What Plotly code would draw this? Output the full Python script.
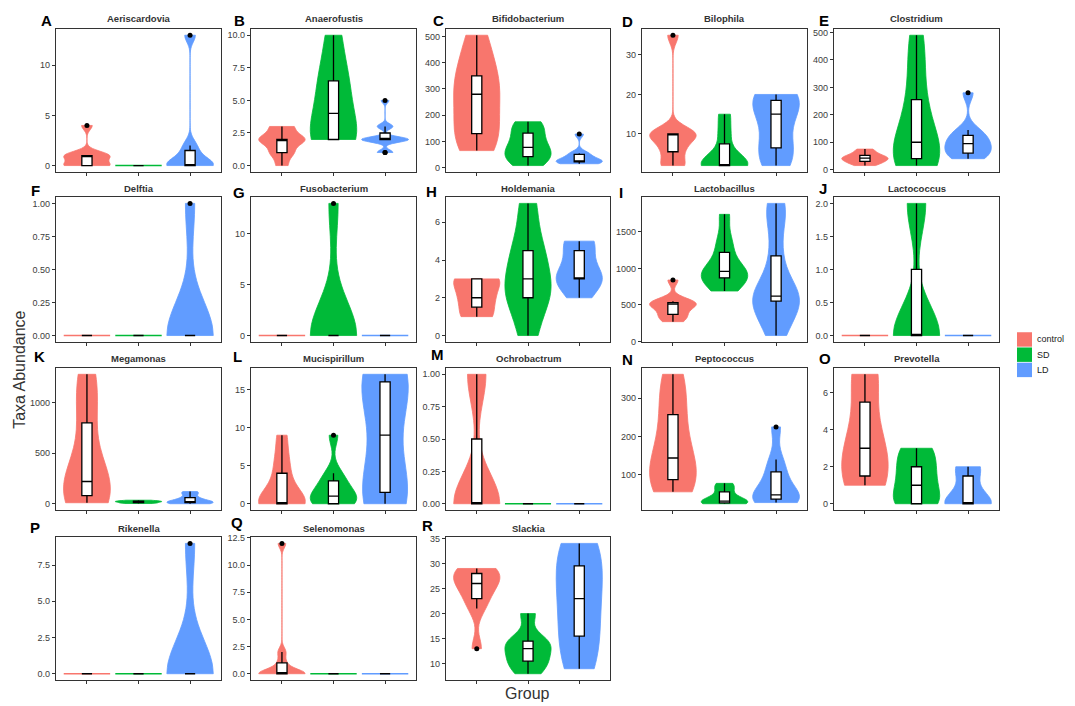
import numpy as np
import plotly.graph_objects as go

GROUPS = ["control", "SD", "LD"]
COLORS = {"control": "#F8766D", "SD": "#00BA38", "LD": "#619CFF"}

# Taxa abundance per group (counts per sample)
aeriscardovia = dict(control=[0, 0, 0, 0, 1, 1, 1, 1, 4],
                     SD=[0, 0, 0, 0, 0, 0, 0, 0, 0],
                     LD=[0, 0, 0, 0, 1, 2, 13])
anaerofustis = dict(control=[0, 1, 1, 2, 2, 2, 2, 3, 3],
                    SD=[2, 2, 2, 4, 6, 7, 10],
                    LD=[1, 1, 2, 2, 2, 2, 2, 2, 3, 3, 5])
bifidobacterium = dict(control=[65, 110, 130, 200, 280, 300, 350, 420, 505],
                       SD=[8, 30, 42, 60, 77, 100, 132, 160, 175],
                       LD=[15, 20, 22, 24, 26, 35, 51, 55, 128])
bilophila = dict(control=[2, 2, 5.5, 7, 10, 10, 10, 10, 35],
                 SD=[2, 2, 2, 2, 5, 10, 15],
                 LD=[2, 5, 8, 15, 17, 20, 20])
clostridium = dict(control=[15, 25, 30, 38, 42, 45, 52, 62, 75],
                   SD=[15, 25, 40, 70, 100, 180, 255, 380, 490],
                   LD=[40, 55, 60, 80, 95, 110, 125, 145, 280])
delftia = dict(control=[0, 0, 0, 0, 0, 0, 0],
               SD=[0, 0, 0, 0, 0, 0, 0],
               LD=[0, 0, 0, 0, 0, 1])
fusobacterium = dict(control=[0, 0, 0, 0, 0, 0, 0],
                     SD=[0, 0, 0, 0, 0, 13],
                     LD=[0, 0, 0, 0, 0, 0, 0])
holdemania = dict(control=[1, 1, 2, 2, 3, 3, 3],
                  SD=[0, 2, 2, 3, 4, 5, 7],
                  LD=[2, 3, 3, 3, 4, 5, 5])
lactobacillus = dict(control=[270, 330, 370, 450, 510, 520, 530, 550, 840],
                     SD=[690, 800, 870, 920, 960, 1000, 1220, 1400, 1740],
                     LD=[80, 350, 550, 580, 620, 700, 1170, 1700, 1890])
lactococcus = dict(control=[0, 0, 0, 0, 0, 0, 0],
                   SD=[0, 0, 0, 0, 0, 2, 2],
                   LD=[0, 0, 0, 0, 0, 0, 0])
megamonas = dict(control=[10, 40, 80, 150, 220, 400, 800, 1100, 1280],
                 SD=[2, 5, 10, 15, 20, 22, 25, 30, 35],
                 LD=[0, 5, 10, 15, 20, 40, 60, 100, 120])
mucispirillum = dict(control=[0, 0, 0, 0, 0, 2, 4, 6, 9],
                     SD=[0, 0, 0, 1, 1, 2, 3, 4, 9],
                     LD=[0, 1, 2, 9, 16, 16, 17])
ochrobactrum = dict(control=[0, 0, 0, 0, 0, 1, 1],
                    SD=[0, 0, 0, 0, 0, 0, 0],
                    LD=[0, 0, 0, 0, 0, 0, 0])
peptococcus = dict(control=[56, 70, 88, 120, 144, 200, 257, 320, 362],
                   SD=[25, 26, 27, 30, 32, 40, 56, 70, 78],
                   LD=[28, 33, 37, 42, 48, 80, 108, 140, 225])
prevotella = dict(control=[1, 1, 2, 3, 4, 7, 7],
                  SD=[0, 0, 0, 1, 1, 2, 2, 3, 3],
                  LD=[0, 0, 0, 0, 1, 2, 2])
rikenella = dict(control=[0, 0, 0, 0, 0, 0, 0],
                 SD=[0, 0, 0, 0, 0, 0, 0],
                 LD=[0, 0, 0, 0, 0, 9])
selenomonas = dict(control=[0, 0, 0, 0, 0, 0, 1, 2, 12],
                   SD=[0, 0, 0, 0, 0, 0, 0],
                   LD=[0, 0, 0, 0, 0, 0, 0])
slackia = dict(control=[13, 21, 23, 25, 26, 27, 28, 29, 29],
               SD=[8, 10, 11, 13, 14, 15, 20],
               LD=[9, 13, 18, 23, 27, 32, 34])

# y tick labels per panel
ticks_A = ["0", "5", "10"]
ticks_B = ["0.0", "2.5", "5.0", "7.5", "10.0"]
ticks_C = ["0", "100", "200", "300", "400", "500"]
ticks_D = ["10", "20", "30"]
ticks_E = ["0", "100", "200", "300", "400", "500"]
ticks_F = ["0.00", "0.25", "0.50", "0.75", "1.00"]
ticks_G = ["0", "5", "10"]
ticks_H = ["0", "2", "4", "6"]
ticks_I = ["0", "500", "1000", "1500"]
ticks_J = ["0.0", "0.5", "1.0", "1.5", "2.0"]
ticks_K = ["0", "500", "1000"]
ticks_L = ["0", "5", "10", "15"]
ticks_M = ["0.00", "0.25", "0.50", "0.75", "1.00"]
ticks_N = ["100", "200", "300"]
ticks_O = ["0", "2", "4", "6"]
ticks_P = ["0.0", "2.5", "5.0", "7.5"]
ticks_Q = ["0.0", "2.5", "5.0", "7.5", "10.0", "12.5"]
ticks_R = ["10", "15", "20", "25", "30", "35"]

panels = [
    ("A", "Aeriscardovia", aeriscardovia, ticks_A),
    ("B", "Anaerofustis", anaerofustis, ticks_B),
    ("C", "Bifidobacterium", bifidobacterium, ticks_C),
    ("D", "Bilophila", bilophila, ticks_D),
    ("E", "Clostridium", clostridium, ticks_E),
    ("F", "Delftia", delftia, ticks_F),
    ("G", "Fusobacterium", fusobacterium, ticks_G),
    ("H", "Holdemania", holdemania, ticks_H),
    ("I", "Lactobacillus", lactobacillus, ticks_I),
    ("J", "Lactococcus", lactococcus, ticks_J),
    ("K", "Megamonas", megamonas, ticks_K),
    ("L", "Mucispirillum", mucispirillum, ticks_L),
    ("M", "Ochrobactrum", ochrobactrum, ticks_M),
    ("N", "Peptococcus", peptococcus, ticks_N),
    ("O", "Prevotella", prevotella, ticks_O),
    ("P", "Rikenella", rikenella, ticks_P),
    ("Q", "Selenomonas", selenomonas, ticks_Q),
    ("R", "Slackia", slackia, ticks_R),
]

W, H = 1075, 706
COL_PX = [(56, 221), (251, 416), (446, 610), (642, 807), (834, 999)]
ROW_PX = [(25, 170), (195, 342), (368, 512), (539, 684)]
TITLE_Y = [15, 187, 359, 531]
LETTER_POS = {
    "A": (46, 17), "B": (239, 17), "C": (438, 17), "D": (627, 18), "E": (824, 17),
    "F": (35, 189), "G": (239, 191), "H": (431, 190), "I": (621, 191), "J": (823, 187),
    "K": (39, 357), "L": (237, 357), "M": (437, 355), "N": (627, 360), "O": (825, 359),
    "P": (35, 530), "Q": (237, 524), "R": (427, 527),
}
TEXT = "#333333"
FONT = "Liberation Sans, Arial, sans-serif"


def nrd0(values):
    """Silverman-style bandwidth as used by R's bw.nrd0."""
    v = np.asarray(values, float)
    hi = v.std(ddof=1)
    q75, q25 = np.percentile(v, [75, 25])
    lo = min(hi, (q75 - q25) / 1.34)
    if not lo:
        lo = hi or abs(v[0]) or 1.0
    return 0.9 * lo * len(v) ** -0.2


def px_x(p):
    return p / W


def px_y(p):
    return 1 - p / H


fig = go.Figure()
annotations = []
layout_axes = {}

for i, (letter, title, data, ticks) in enumerate(panels):
    r, c = divmod(i, 5)
    n = i + 1
    xs = "" if n == 1 else str(n)
    xa, ya = "x" + xs, "y" + xs

    allv = np.concatenate([np.asarray(data[g], float) for g in GROUPS])
    lo, hi = allv.min(), allv.max()
    pad = 0.05 * (hi - lo)

    for k, g in enumerate(GROUPS):
        vals = data[g]
        flat = min(vals) == max(vals)
        fig.add_trace(go.Violin(
            x0=k + 1, y=vals, xaxis=xa, yaxis=ya,
            name=f"{title} {g}", width=0.9, spanmode="hard",
            bandwidth=None if flat else nrd0(vals),
            quartilemethod="inclusive",
            fillcolor=COLORS[g], opacity=1,
            line=dict(color=COLORS[g], width=1.4 if flat else 0.8),
            points="outliers", pointpos=0, jitter=0,
            marker=dict(color="black", size=5, line=dict(width=0)),
            box=dict(visible=True, width=0.22, fillcolor="white",
                     line=dict(color="black", width=1.3)),
            meanline=dict(visible=False),
            showlegend=False, hoverinfo="skip",
        ))

    x0p, x1p = COL_PX[c]
    y0p, y1p = ROW_PX[r]
    axis_common = dict(showline=True, mirror=True, linecolor="#333333", linewidth=1.2,
                       showgrid=False, zeroline=False, ticks="outside", ticklen=3,
                       tickwidth=1, tickcolor="#333333")
    layout_axes["xaxis" + xs] = dict(
        axis_common, domain=[px_x(x0p), px_x(x1p)], anchor=ya, type="linear",
        range=[0.4, 3.6], tickvals=[1, 2, 3], showticklabels=False)
    layout_axes["yaxis" + xs] = dict(
        axis_common, domain=[px_y(y1p), px_y(y0p)], anchor=xa,
        range=[lo - pad, hi + pad], tickvals=[float(t) for t in ticks], ticktext=ticks,
        tickfont=dict(size=9, color="#3c3c3c", family=FONT))

    annotations.append(dict(
        x=px_x((x0p + x1p) / 2), y=px_y(TITLE_Y[r]), xref="paper", yref="paper",
        text=f"<b>{title}</b>", showarrow=False, xanchor="center", yanchor="middle",
        font=dict(size=9.5, color=TEXT, family=FONT)))
    lx, ly = LETTER_POS[letter]
    annotations.append(dict(
        x=px_x(lx), y=px_y(ly), xref="paper", yref="paper", text=f"<b>{letter}</b>",
        showarrow=False, xanchor="center", yanchor="middle",
        font=dict(size=15, color="black", family=FONT)))

# axis titles
annotations.append(dict(x=px_x(20), y=px_y(370), xref="paper", yref="paper",
                        text="Taxa Abundance", textangle=-90, showarrow=False,
                        xanchor="center", yanchor="middle",
                        font=dict(size=16, color=TEXT, family=FONT)))
annotations.append(dict(x=px_x(527), y=px_y(697), xref="paper", yref="paper",
                        text="Group", showarrow=False, xanchor="center", yanchor="middle",
                        font=dict(size=16, color=TEXT, family=FONT)))

# legend keys
shapes = []
for k, g in enumerate(GROUPS):
    top = 332 + k * 15.4
    shapes.append(dict(type="rect", xref="paper", yref="paper",
                       x0=px_x(1017), x1=px_x(1032), y0=px_y(top + 14.6), y1=px_y(top),
                       fillcolor=COLORS[g], line=dict(width=0)))
    annotations.append(dict(x=px_x(1035), y=px_y(top + 7.3), xref="paper", yref="paper",
                            text=g, showarrow=False, xanchor="left", yanchor="middle",
                            font=dict(size=9, color="#1a1a1a", family=FONT)))

fig.update_layout(
    width=W, height=H, autosize=False,
    margin=dict(l=0, r=0, t=0, b=0),
    paper_bgcolor="white", plot_bgcolor="white",
    violinmode="overlay", showlegend=False,
    annotations=annotations, shapes=shapes,
    **layout_axes,
)

fig.write_html("out.html")
